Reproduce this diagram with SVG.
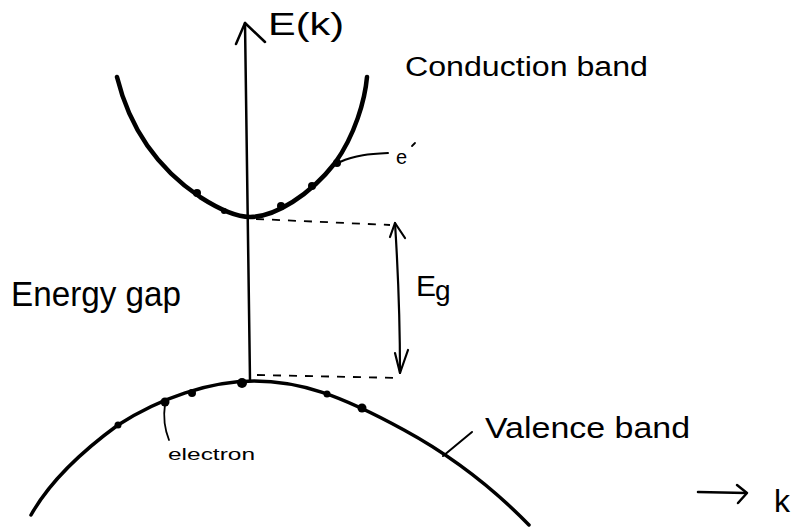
<svg xmlns="http://www.w3.org/2000/svg" width="804" height="529" viewBox="0 0 804 529">
<style>
.ink{fill:none;stroke:#000;stroke-linecap:round;stroke-linejoin:round}
.t{font-family:"Liberation Sans",Arial,sans-serif;fill:#000}
.dash{fill:none;stroke:#000;stroke-width:1.8;stroke-dasharray:8 8}
.dot{fill:#000}
</style>
<rect width="804" height="529" fill="#fff"/>
<g id="axis">
<path class="ink" stroke-width="2.5" d="M245,23 L250,380"/>
<path class="ink" stroke-width="2.5" d="M236,44 L245,23 L265,42"/>
<text class="t" x="268" y="35" font-size="31" textLength="76" lengthAdjust="spacingAndGlyphs">E(k)</text>
</g>
<g id="conduction-band">
<path class="ink" stroke-width="4.5" d="M117,77 C130,130 160,170 200,197 C225,213 240,217 250,217 C275,217 310,195 335,163 C355,135 365,100 367,77"/>
<circle class="dot" cx="197" cy="193" r="4"/>
<circle class="dot" cx="224" cy="211" r="3"/>
<circle class="dot" cx="281" cy="206" r="4"/>
<circle class="dot" cx="312" cy="186" r="4"/>
<circle class="dot" cx="337" cy="163" r="4"/>
<text class="t" x="405" y="76" font-size="27" textLength="243" lengthAdjust="spacingAndGlyphs">Conduction band</text>
</g>
<g id="electron-label-top">
<path class="ink" stroke-width="2" d="M340,162 C355,155 370,154 388,153"/>
<text class="t" x="396" y="164" font-size="20">e</text>
<path class="ink" stroke-width="1.8" d="M412,146 L415,143"/>
</g>
<g id="valence-band">
<path class="ink" stroke-width="3.5" d="M31,515 C45,490 70,460 118,425 C160,398 210,381 254,381 C300,381 340,395 404,430 C450,455 490,485 529,525"/>
<circle class="dot" cx="118" cy="425" r="3.5"/>
<circle class="dot" cx="165" cy="402" r="4.5"/>
<circle class="dot" cx="192" cy="393" r="4"/>
<circle class="dot" cx="242" cy="383" r="5"/>
<circle class="dot" cx="327" cy="394" r="3.5"/>
<circle class="dot" cx="362" cy="408" r="4.5"/>
<path class="ink" stroke-width="2" d="M443,456 L472,432"/>
<text class="t" x="485" y="438" font-size="29" textLength="205" lengthAdjust="spacingAndGlyphs">Valence band</text>
</g>
<g id="electron-label-bottom">
<path class="ink" stroke-width="1.8" d="M165,404 C163,418 165,430 169,440"/>
<text class="t" x="168" y="460" font-size="17" textLength="87" lengthAdjust="spacingAndGlyphs">electron</text>
</g>
<g id="energy-gap">
<path class="dash" d="M256,219 L390,225"/>
<path class="dash" d="M257,375 L400,378"/>
<path class="ink" stroke-width="2.2" d="M395,223 C398,270 400,320 400,373"/>
<path class="ink" stroke-width="2.2" d="M390,237 L395,223 L405,238"/>
<path class="ink" stroke-width="2.2" d="M395,353 L400,373 L408,350"/>
<text class="t" x="416" y="296" font-size="30">E</text>
<text class="t" x="435" y="300" font-size="28">g</text>
<text class="t" x="11" y="306" font-size="35" textLength="170" lengthAdjust="spacingAndGlyphs">Energy gap</text>
</g>
<g id="k-axis">
<path class="ink" stroke-width="2.5" d="M698,492 L746,493"/>
<path class="ink" stroke-width="2.5" d="M737,485 L747,493 L738,503"/>
<text class="t" x="774" y="512" font-size="32">k</text>
</g>
</svg>
